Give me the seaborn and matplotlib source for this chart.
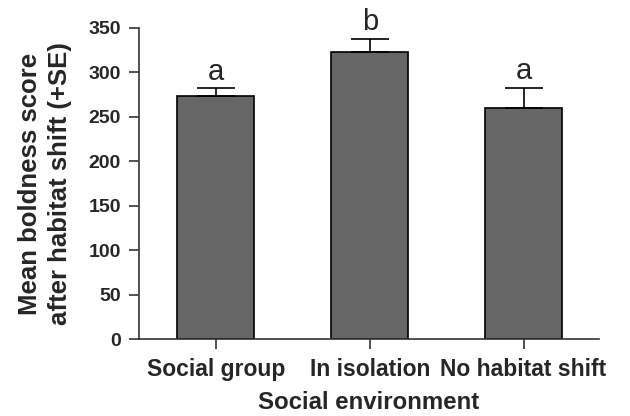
import matplotlib
matplotlib.use('Agg')
import matplotlib.pyplot as plt
import seaborn as sns

# ── Data ──────────────────────────────────────────────────────────────────────
groups = ['Social group', 'In isolation', 'No habitat shift']
means = [273, 323, 260]
se = [9, 15, 23]
letters = ['a', 'b', 'a']
yticks = [0, 50, 100, 150, 200, 250, 300, 350]

sns.set_style('ticks')
plt.rcParams['font.family'] = ['Liberation Sans', 'DejaVu Sans']

fig = plt.figure(figsize=(6.3, 4.16), dpi=100)
ax = fig.add_axes([0.2206, 0.185, 0.7302, 0.7477])

sns.barplot(x=groups, y=means, color='#666666', edgecolor='black',
            linewidth=1.2, width=0.5, saturation=1, ax=ax)
ax.errorbar(x=range(len(groups)), y=means, yerr=[[0] * len(se), se],
            fmt='none', ecolor='black', elinewidth=1.2, capsize=14,
            capthick=1.2, zorder=5)

for i, (m, s, lab) in enumerate(zip(means, se, letters)):
    ax.text(i, m + s + 3, lab, ha='center', va='bottom', fontsize=21)

ax.set_xlim(-0.5, 2.49)
ax.set_ylim(0, 350)
ax.set_yticks(yticks)
ax.set_xlabel('Social environment', fontsize=17.3, fontweight='bold', labelpad=7)
ax.set_ylabel('Mean boldness score\nafter habitat shift (+SE)', fontsize=18.5,
              fontweight='bold', linespacing=1.3)
ax.yaxis.set_label_coords(-0.146, 0.5)
ax.tick_params(axis='y', labelsize=14, length=7, width=1.2, pad=6, color='#333333')
ax.tick_params(axis='x', labelsize=16.5, length=7, width=1.2, pad=7, color='#333333')
for t in ax.get_xticklabels() + ax.get_yticklabels():
    t.set_fontweight('bold')
for side in ['left', 'bottom']:
    ax.spines[side].set_linewidth(1.2)
    ax.spines[side].set_color('#333333')
sns.despine(ax=ax)

plt.savefig('out.png', dpi=100)
plt.close()
